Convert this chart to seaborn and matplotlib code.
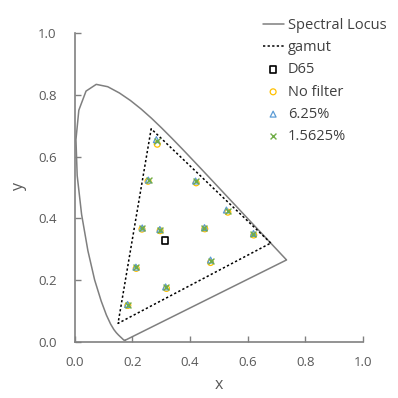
import pandas as pd
import numpy as np
import seaborn as sns
import matplotlib.pyplot as plt

# CIE 1931 spectral locus (380-700 nm), closed by the line of purples
locus_x = [0.1741, 0.1738, 0.1733, 0.1726, 0.1714, 0.1703, 0.1689, 0.1669, 0.1644, 0.1611,
           0.1566, 0.1510, 0.1440, 0.1355, 0.1241, 0.1096, 0.0913, 0.0687, 0.0454, 0.0235,
           0.0082, 0.0039, 0.0139, 0.0389, 0.0743, 0.1142, 0.1547, 0.1929, 0.2296, 0.2658,
           0.3016, 0.3373, 0.3731, 0.4087, 0.4441, 0.4788, 0.5125, 0.5448, 0.5752, 0.6029,
           0.6270, 0.6482, 0.6658, 0.6801, 0.6915, 0.7006, 0.7079, 0.7140, 0.7190, 0.7230,
           0.7260, 0.7300, 0.7320, 0.7334, 0.7347, 0.1741]
locus_y = [0.0050, 0.0049, 0.0048, 0.0048, 0.0051, 0.0058, 0.0069, 0.0086, 0.0109, 0.0138,
           0.0177, 0.0227, 0.0297, 0.0399, 0.0578, 0.0868, 0.1327, 0.2007, 0.2950, 0.4127,
           0.5384, 0.6548, 0.7502, 0.8120, 0.8338, 0.8262, 0.8059, 0.7816, 0.7543, 0.7243,
           0.6923, 0.6589, 0.6245, 0.5896, 0.5547, 0.5202, 0.4866, 0.4544, 0.4242, 0.3965,
           0.3725, 0.3514, 0.3340, 0.3197, 0.3083, 0.2993, 0.2920, 0.2859, 0.2809, 0.2770,
           0.2740, 0.2700, 0.2680, 0.2666, 0.2653, 0.0050]

# DCI-P3 gamut triangle
gamut_x = [0.680, 0.265, 0.150, 0.680]
gamut_y = [0.320, 0.690, 0.060, 0.320]

d65_x = [0.3127]
d65_y = [0.3290]

# measured chromaticities
nofilter_x = [0.286, 0.254, 0.421, 0.531, 0.621, 0.233, 0.296, 0.451, 0.471, 0.213, 0.318, 0.184]
nofilter_y = [0.640, 0.520, 0.515, 0.420, 0.346, 0.365, 0.360, 0.366, 0.257, 0.238, 0.173, 0.118]
f625_x = [0.283, 0.255, 0.419, 0.526, 0.620, 0.234, 0.295, 0.450, 0.471, 0.212, 0.315, 0.183]
f625_y = [0.655, 0.524, 0.521, 0.427, 0.351, 0.369, 0.364, 0.370, 0.265, 0.242, 0.178, 0.121]
f15625_x = [0.284, 0.256, 0.420, 0.530, 0.620, 0.234, 0.296, 0.450, 0.472, 0.212, 0.316, 0.184]
f15625_y = [0.650, 0.525, 0.520, 0.423, 0.349, 0.368, 0.363, 0.368, 0.262, 0.241, 0.177, 0.120]

sns.set_style("white")
plt.rcParams['font.family'] = ['Open Sans', 'DejaVu Sans']

fig = plt.figure(figsize=(3.98, 3.98), dpi=100)
ax = fig.add_axes([0.188, 0.141, 0.724, 0.776])

locus = pd.DataFrame({"x": locus_x, "y": locus_y})
sns.lineplot(data=locus, x="x", y="y", sort=False, estimator=None, color="#7f7f7f",
             linewidth=1.1, ax=ax, label="Spectral Locus")
gamut = pd.DataFrame({"x": gamut_x, "y": gamut_y})
sns.lineplot(data=gamut, x="x", y="y", sort=False, estimator=None, color="black",
             linewidth=1.1, linestyle=(0, (1.5, 1.5)), ax=ax, label="gamut")

ax.scatter(d65_x, d65_y, marker="s", s=22, facecolors="none", edgecolors="black",
           linewidths=1.2, label="D65", zorder=3)
ax.scatter(nofilter_x, nofilter_y, marker="o", s=18, facecolors="none", edgecolors="#FFC000",
           linewidths=0.9, label="No filter", zorder=3)
ax.scatter(f625_x, f625_y, marker="^", s=18, facecolors="none", edgecolors="#5B9BD5",
           linewidths=0.9, label="6.25%", zorder=4)
ax.scatter(f15625_x, f15625_y, marker="x", s=18, color="#70AD47",
           linewidths=1.0, label="1.5625%", zorder=5)

ax.set_xlim(0, 1.0)
ax.set_ylim(0, 1.0)
ax.set_xticks(np.arange(0, 1.01, 0.2))
ax.set_yticks(np.arange(0, 1.01, 0.2))
ax.xaxis.set_major_formatter(plt.FormatStrFormatter("%.1f"))
ax.yaxis.set_major_formatter(plt.FormatStrFormatter("%.1f"))
ax.set_xlabel("x", fontsize=11.5, color="#595959", labelpad=6)
ax.set_ylabel("y", fontsize=11.5, color="#595959", labelpad=8)

for s in ["top", "right"]:
    ax.spines[s].set_visible(False)
for s in ["left", "bottom"]:
    ax.spines[s].set_color("#808080")
    ax.spines[s].set_linewidth(1.2)
ax.tick_params(direction="in", length=4, width=1, color="#808080", labelcolor="#595959",
               labelsize=9.5, left=True, bottom=True)
ax.tick_params(axis="x", pad=10)
ax.tick_params(axis="y", pad=13)

ax.legend(loc="upper left", bbox_to_anchor=(0.645, 0.970), bbox_transform=fig.transFigure,
          frameon=False, fontsize=10.5, labelspacing=0.5, handlelength=1.45,
          handletextpad=0.3, borderaxespad=0, labelcolor="#404040")

fig.savefig("out.png", dpi=100)
